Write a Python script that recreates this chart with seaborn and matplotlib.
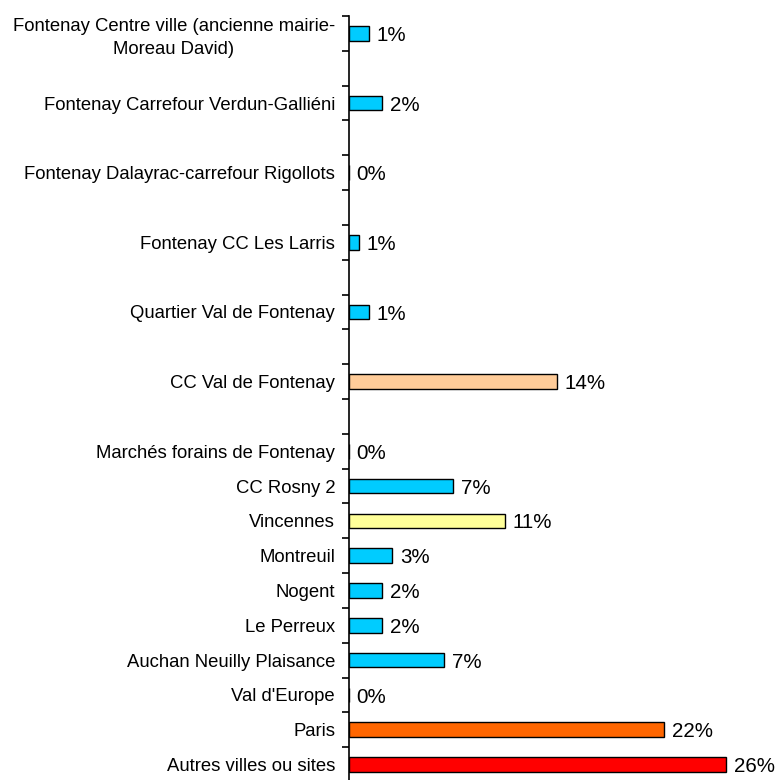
import numpy as np
import pandas as pd
import seaborn as sns
import matplotlib.pyplot as plt
from matplotlib.ticker import FixedLocator

# Lieux d'achat (ordre du haut vers le bas)
lieux = [
    "Fontenay Centre ville (ancienne mairie-\nMoreau David)",
    "Fontenay Carrefour Verdun-Galliéni",
    "Fontenay Dalayrac-carrefour Rigollots",
    "Fontenay CC Les Larris",
    "Quartier Val de Fontenay",
    "CC Val de Fontenay",
    "Marchés forains de Fontenay",
    "CC Rosny 2",
    "Vincennes",
    "Montreuil",
    "Nogent",
    "Le Perreux",
    "Auchan Neuilly Plaisance",
    "Val d'Europe",
    "Paris",
    "Autres villes ou sites",
]
# Part des réponses (%)
parts = [1.4, 2.3, 0.0, 0.7, 1.4, 14.4, 0.0, 7.2, 10.8, 3.0, 2.3, 2.3, 6.6, 0.0, 21.8, 26.1]
# Couleur de chaque barre
couleurs = ["#00CCFF", "#00CCFF", "#00CCFF", "#00CCFF", "#00CCFF", "#FFCC99",
            "#00CCFF", "#00CCFF", "#FFFF99", "#00CCFF", "#00CCFF", "#00CCFF",
            "#00CCFF", "#00CCFF", "#FF6600", "#FF0000"]
# Les sites de Fontenay sont suivis d'une ligne vide
n_espaces = 6

df = pd.DataFrame({"lieu": lieux, "part": parts})

# ordre des categories, avec des lignes vides apres les sites de Fontenay
ordre = []
for i, nom in enumerate(lieux):
    ordre.append(nom)
    if i < n_espaces:
        ordre.append(" " * (i + 1))

sns.set_style("white")
plt.rcParams["font.family"] = ["Liberation Sans", "DejaVu Sans"]
plt.rcParams["text.color"] = "black"
plt.rcParams["ytick.color"] = "black"

fig = plt.figure(figsize=(7.77, 7.8), dpi=100)
ax = fig.add_axes([349 / 777, -2 / 780, 425 / 777, 766 / 780])

sns.barplot(data=df, y="lieu", x="part", order=ordre, hue="lieu",
            palette=dict(zip(lieux, couleurs)), legend=False, orient="h",
            saturation=1, width=0.42, edgecolor="black", linewidth=1.0, ax=ax)

# etiquettes de valeur
pos = {nom: k for k, nom in enumerate(ordre)}
for nom, v in zip(lieux, parts):
    ax.annotate("%d%%" % int(round(v)), (v, pos[nom]), xytext=(5.5, -1.5),
                textcoords="offset points", va="center", ha="left",
                fontsize=14.8, color="black")

ax.set_xlim(0, 29.4)
ax.set_ylim(len(ordre) - 0.5, -0.5)
ax.set_xlabel("")
ax.set_ylabel("")
ax.set_xticks([])

# graduations entre les categories
ax.yaxis.set_minor_locator(FixedLocator(np.arange(-0.5, len(ordre), 1.0)))
ax.tick_params(axis="y", which="minor", left=True, length=5, width=1.2, color="black")
ax.tick_params(axis="y", which="major", left=False, length=0, pad=10, labelsize=13.3,
               labelcolor="black")
for lab in ax.get_yticklabels():
    lab.set_multialignment("center")
    lab.set_linespacing(1.45)

for s in ["top", "right", "bottom"]:
    ax.spines[s].set_visible(False)
ax.spines["left"].set_color("black")
ax.spines["left"].set_linewidth(1.2)

fig.savefig("out.png", dpi=100)
